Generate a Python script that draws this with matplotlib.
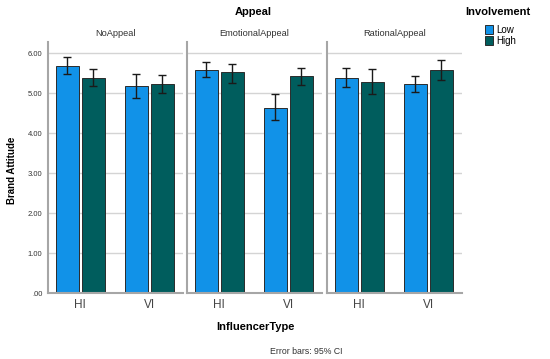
import matplotlib.pyplot as plt
import numpy as np
from matplotlib.patches import Patch

plt.rcParams["font.family"] = ["Liberation Sans", "DejaVu Sans"]

# Means and 95% CI bounds
appeals = ["NoAppeal", "EmotionalAppeal", "RationalAppeal"]
influencer_types = ["HI", "VI"]
levels = ["Low", "High"]

low_mean = [[5.69, 5.18], [5.59, 4.64], [5.38, 5.22]]
low_upper = [[5.90, 5.47], [5.78, 4.97], [5.62, 5.42]]
low_lower = [[5.48, 4.89], [5.40, 4.33], [5.15, 5.03]]

high_mean = [[5.39, 5.22], [5.53, 5.42], [5.28, 5.57]]
high_upper = [[5.61, 5.45], [5.74, 5.63], [5.60, 5.82]]
high_lower = [[5.18, 5.00], [5.25, 5.21], [4.97, 5.34]]

ytick_vals = [0, 1, 2, 3, 4, 5, 6]
ytick_labels = [".00", "1.00", "2.00", "3.00", "4.00", "5.00", "6.00"]

colors = {"Low": "#1192e8", "High": "#005d5d"}
axis_gray = "#a6a6a6"
grid_gray = "#d4d4d4"

W, H = 550, 359
fig = plt.figure(figsize=(W / 100, H / 100), dpi=100)

panel_left = [48, 187, 327]
panel_w = 135
top_px, bottom_px = 42, 293

x = np.arange(len(influencer_types))
bw = 0.335
off = 0.19

for i, name in enumerate(appeals):
    ax = fig.add_axes([panel_left[i] / W, (H - bottom_px) / H,
                       panel_w / W, (bottom_px - top_px) / H])
    series = [
        ("Low", low_mean[i], low_lower[i], low_upper[i], -off),
        ("High", high_mean[i], high_lower[i], high_upper[i], off),
    ]
    for lvl, m, lo, hi, dx in series:
        m = np.array(m)
        yerr = [m - np.array(lo), np.array(hi) - m]
        ax.bar(x + dx, m, width=bw, color=colors[lvl], edgecolor="#2b2b2b",
               linewidth=0.7, zorder=2)
        ax.errorbar(x + dx, m, yerr=yerr, fmt="none", ecolor="#1a1a1a",
                    elinewidth=1.0, capsize=3, capthick=1.0, zorder=3)

    ax.set_xlim(-0.47, 1.49)
    ax.set_ylim(0, 6.28)
    ax.set_yticks(ytick_vals)
    ax.yaxis.grid(True, color=grid_gray, linewidth=1.0, zorder=0)
    ax.set_axisbelow(True)
    ax.set_xticks(x)
    ax.set_xticklabels(influencer_types, fontsize=8.5, color="#444444")
    ax.tick_params(length=0, pad=4)
    if i == 0:
        ax.set_yticklabels(ytick_labels, fontsize=5.5, color="#333333")
    else:
        ax.set_yticklabels([])
    for s in ["top", "right"]:
        ax.spines[s].set_visible(False)
    for s in ["left", "bottom"]:
        ax.spines[s].set_color(axis_gray)
        ax.spines[s].set_linewidth(1.5)
    ax.set_title(name, fontsize=6.7, color="#333333", pad=4)

fig.text(253 / W, 1 - 12 / H, "Appeal", fontsize=8, fontweight="bold",
         ha="center", va="center")
fig.text(255 / W, 1 - 327 / H, "InfluencerType", fontsize=8,
         fontweight="bold", ha="center", va="center")
fig.text(306 / W, 1 - 352 / H, "Error bars: 95% CI", fontsize=6.3,
         ha="center", va="center", color="#333333")
fig.text(12 / W, 1 - 170 / H, "Brand Attitude", fontsize=7,
         fontweight="bold", rotation=90, ha="center", va="center")
fig.text(465 / W, 1 - 12 / H, "Involvement", fontsize=8, fontweight="bold",
         ha="left", va="center")

handles = [Patch(facecolor=colors[l], edgecolor="#2b2b2b", linewidth=0.7)
           for l in levels]
fig.legend(handles, levels, loc="upper left",
           bbox_to_anchor=(478 / W, 1 - 18 / H),
           fontsize=7, frameon=False, handlelength=0.85, handleheight=1.1,
           handletextpad=0.3, labelspacing=0.1, borderpad=0.2)

fig.savefig("out.png", dpi=100)
